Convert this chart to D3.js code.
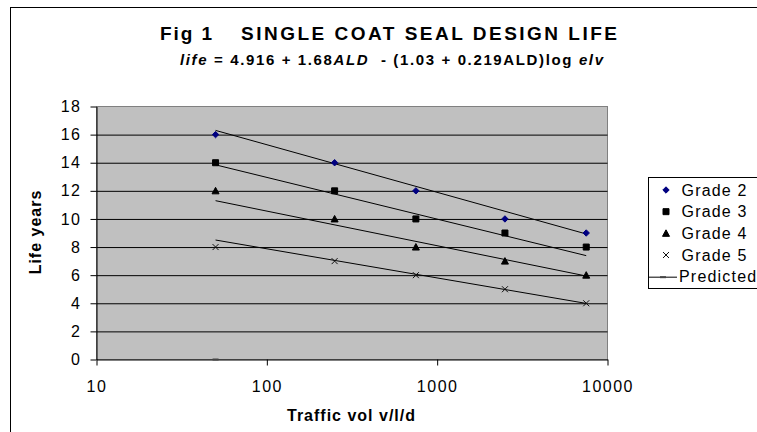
<!DOCTYPE html>
<html>
<head>
<meta charset="utf-8">
<script src="https://cdn.jsdelivr.net/npm/d3@7"></script>
<style>
  body { margin: 0; background: #fff; }
  svg { display: block; font-family: "Liberation Sans", Arial, sans-serif; }
</style>
</head>
<body>
<div id="chart"></div>
<script>
// Fig 1 - single coat seal design life vs traffic (log x)

const xVals = [50, 250, 750, 2500, 7500];
const grade2 = [16, 14, 12, 10, 9];
const grade3 = [14, 12, 10, 9, 8];
const grade4 = [12, 10, 8, 7, 6];
const grade5 = [8, 7, 6, 5, 4];

// predicted lines, read at both ends
const predX = [50, 7500];
const pred2 = [16.3, 8.93];
const pred3 = [13.85, 7.39];
const pred4 = [11.3, 5.94];
const pred5 = [8.5, 3.99];
// stray point of the Predicted series sitting on the x axis
const predDotX = [50];
const predDotY = [0];

const yTicks = [0, 2, 4, 6, 8, 10, 12, 14, 16, 18];
const xTicks = [10, 100, 1000, 10000];
const legendNames = ['Grade 2', 'Grade 3', 'Grade 4', 'Grade 5', 'Predicted'];

const W = 757, H = 432;
const svg = d3.select('#chart').append('svg').attr('width', W).attr('height', H);

// chart border
svg.append('rect')
  .attr('x', 10.5).attr('y', 7.5).attr('width', 800).attr('height', 500)
  .attr('fill', '#fff').attr('stroke', '#000').attr('stroke-width', 1);

const x = d3.scaleLog().domain([10, 10000]).range([96.5, 607.5]);
const y = d3.scaleLinear().domain([0, 18]).range([359.5, 106.5]);

// plot area
svg.append('rect')
  .attr('x', x(10)).attr('y', y(18))
  .attr('width', x(10000) - x(10)).attr('height', y(0) - y(18))
  .attr('fill', '#c0c0c0').attr('stroke', '#808080');

// gridlines
const grid = svg.append('g').attr('transform', `translate(${x(10)},0)`)
  .call(d3.axisLeft(y).tickValues(yTicks.filter(v => v > 0 && v < 18))
    .tickSize(-(x(10000) - x(10))).tickFormat(''));
grid.select('.domain').remove();
grid.selectAll('line').attr('stroke', '#000');

// axes
const yAxis = svg.append('g').attr('transform', `translate(${x(10)},0)`)
  .call(d3.axisLeft(y).tickValues(yTicks).tickSize(6).tickPadding(9).tickSizeOuter(0));
const xAxis = svg.append('g').attr('transform', `translate(0,${y(0)})`)
  .call(d3.axisBottom(x).tickValues(xTicks).tickFormat(d3.format('d')).tickSize(6).tickPadding(15).tickSizeOuter(0));
[yAxis, xAxis].forEach(a => {
  a.select('.domain').attr('stroke', '#000');
  a.selectAll('line').attr('stroke', '#000');
  a.selectAll('text').attr('fill', '#000').attr('font-size', 16)
    .attr('font-family', '"Liberation Sans", Arial, sans-serif')
    .style('letter-spacing', '1.5px');
});

// marker shapes
const markerPath = {
  diamond: 'M0,-3.2L3.2,0L0,3.2L-3.2,0Z',
  square: 'M-3,-3H3V3H-3Z',
  triangle: 'M0,-3.5L3.5,3L-3.5,3Z',
  cross: 'M-3,-3L3,3M-3,3L3,-3',
};
const series = [
  { vals: grade2, shape: 'diamond', fill: '#000080', stroke: '#000080' },
  { vals: grade3, shape: 'square', fill: '#000', stroke: '#000' },
  { vals: grade4, shape: 'triangle', fill: '#000', stroke: '#000' },
  { vals: grade5, shape: 'cross', fill: 'none', stroke: '#111' },
];

// predicted lines
const line = d3.line().x(d => x(d[0])).y(d => y(d[1]));
[pred2, pred3, pred4, pred5].forEach(p => {
  svg.append('path')
    .datum(predX.map((v, i) => [v, p[i]]))
    .attr('d', line).attr('fill', 'none').attr('stroke', '#000').attr('stroke-width', 1);
});
svg.selectAll('.pdot').data(predDotX.map((v, i) => [v, predDotY[i]])).join('path')
  .attr('class', 'pdot')
  .attr('transform', d => `translate(${x(d[0])},${y(d[1])})`)
  .attr('d', 'M-3,0H3').attr('stroke', '#444').attr('stroke-width', 2);

// grade points
series.forEach(s => {
  svg.append('g').selectAll('path')
    .data(xVals.map((v, i) => [v, s.vals[i]])).join('path')
    .attr('transform', d => `translate(${x(d[0])},${y(d[1])})`)
    .attr('d', markerPath[s.shape])
    .attr('fill', s.fill).attr('stroke', s.stroke).attr('stroke-width', 1);
});

// titles
svg.append('text').attr('x', 160).attr('y', 40)
  .attr('font-size', 19).attr('font-weight', 'bold').text('Fig 1')
  .attr('textLength', 52).attr('lengthAdjust', 'spacing');
svg.append('text').attr('x', 241).attr('y', 40)
  .attr('font-size', 19).attr('font-weight', 'bold')
  .attr('textLength', 376).attr('lengthAdjust', 'spacing')
  .text('SINGLE COAT SEAL DESIGN LIFE');

const sub = svg.append('text').attr('x', 180).attr('y', 65)
  .attr('font-size', 15).attr('font-weight', 'bold')
  .attr('textLength', 423).attr('lengthAdjust', 'spacing')
  .attr('xml:space', 'preserve');
sub.append('tspan').attr('font-style', 'italic').text('life');
sub.append('tspan').text(' = 4.916 + 1.68');
sub.append('tspan').attr('font-style', 'italic').text('ALD');
sub.append('tspan').text('  - (1.03 + 0.219ALD)log ');
sub.append('tspan').attr('font-style', 'italic').text('elv');

svg.append('text').attr('x', 351.5).attr('y', 421)
  .attr('text-anchor', 'middle').attr('font-size', 16).attr('font-weight', 'bold')
  .style('letter-spacing', '1px').text('Traffic vol v/l/d');

svg.append('text').attr('transform', 'translate(41,232) rotate(-90)')
  .attr('text-anchor', 'middle').attr('font-size', 16).attr('font-weight', 'bold')
  .style('letter-spacing', '1px').text('Life years');

// legend
const lg = svg.append('g');
lg.append('rect').attr('x', 648.5).attr('y', 177.5).attr('width', 140).attr('height', 111)
  .attr('fill', '#fff').attr('stroke', '#000');
legendNames.forEach((name, i) => {
  const cy = 190 + i * 21.67;
  if (i < 4) {
    const s = series[i];
    lg.append('path').attr('transform', `translate(666,${cy})`)
      .attr('d', markerPath[s.shape]).attr('fill', s.fill).attr('stroke', s.stroke);
  } else {
    lg.append('line').attr('x1', 649).attr('x2', 677).attr('y1', cy + 0.5).attr('y2', cy + 0.5)
      .attr('stroke', '#000');
    lg.append('path').attr('transform', `translate(663,${cy + 0.5})`)
      .attr('d', 'M-3,0H3').attr('stroke', '#444').attr('stroke-width', 2);
  }
  lg.append('text').attr('x', i < 4 ? 681.5 : 679).attr('y', cy + 5.7)
    .attr('font-size', 16).style('letter-spacing', '1.2px').text(name);
});
</script>
</body>
</html>
